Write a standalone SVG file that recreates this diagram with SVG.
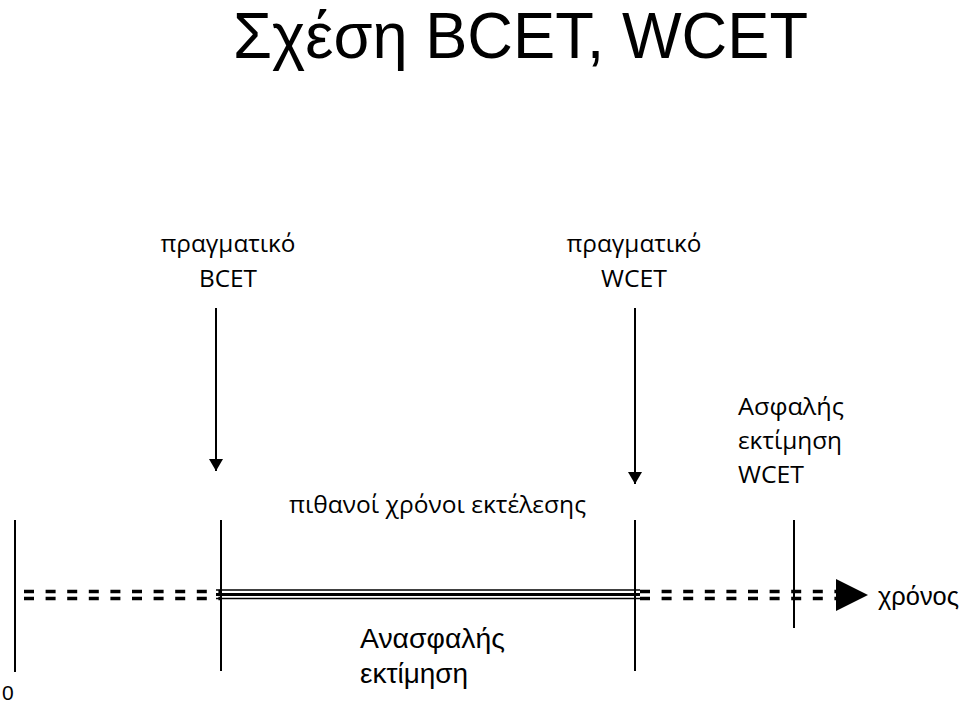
<svg xmlns="http://www.w3.org/2000/svg" width="960" height="705" viewBox="0 0 960 705">
<style>
.c{font-family:"Open Sans","Noto Sans","DejaVu Sans",sans-serif;fill:#000}
.a{font-family:"Liberation Sans",Arial,sans-serif;fill:#000}
.ln{stroke:#000;stroke-width:2;fill:none}
.d{stroke:#000;stroke-width:3.5;stroke-dasharray:10 11.6;fill:none}
</style>
<defs>
<marker id="ah" viewBox="0 0 12 14" refX="12" refY="7" markerWidth="12" markerHeight="14" markerUnits="userSpaceOnUse" orient="auto">
<path d="M0,0 L12,7 L0,14 Z" fill="#000"/>
</marker>
</defs>
<rect width="960" height="705" fill="#fff"/>
<g id="title"><text class="a" x="233" y="58" font-size="64" textLength="575" lengthAdjust="spacingAndGlyphs">Σχέση BCET, WCET</text></g>
<g id="bcet-label"><text class="c" x="228" y="252" font-size="23" text-anchor="middle" textLength="135" lengthAdjust="spacingAndGlyphs">πραγματικό</text><text class="c" x="228" y="287" font-size="23" text-anchor="middle" textLength="58" lengthAdjust="spacingAndGlyphs">BCET</text></g>
<g id="wcet-label"><text class="c" x="634" y="252" font-size="23" text-anchor="middle" textLength="135" lengthAdjust="spacingAndGlyphs">πραγματικό</text><text class="c" x="634" y="287" font-size="23" text-anchor="middle" textLength="66" lengthAdjust="spacingAndGlyphs">WCET</text></g>
<g id="safe-label"><text class="c" x="738" y="415" font-size="23" textLength="106" lengthAdjust="spacingAndGlyphs">Ασφαλής</text><text class="c" x="738" y="449" font-size="23" textLength="104" lengthAdjust="spacingAndGlyphs">εκτίμηση</text><text class="c" x="738" y="483" font-size="23" textLength="66" lengthAdjust="spacingAndGlyphs">WCET</text></g>
<g id="possible-label"><text class="c" x="289" y="513" font-size="23" textLength="297" lengthAdjust="spacingAndGlyphs">πιθανοί χρόνοι εκτέλεσης</text></g>
<g id="unsafe-label"><text class="a" x="360" y="648" font-size="27" textLength="145" lengthAdjust="spacingAndGlyphs">Ανασφαλής</text><text class="a" x="360" y="683" font-size="27" textLength="108" lengthAdjust="spacingAndGlyphs">εκτίμηση</text></g>
<g id="time-label"><text class="a" x="878" y="605" font-size="26" textLength="81" lengthAdjust="spacingAndGlyphs">χρόνος</text></g>
<g id="zero-label"><text class="a" x="2" y="700" font-size="21">0</text></g>
<g id="connectors">
<line class="ln" x1="216" y1="308" x2="216" y2="471" marker-end="url(#ah)"/>
<line class="ln" x1="635" y1="308" x2="635" y2="484" marker-end="url(#ah)"/>
<line class="ln" x1="15" y1="520" x2="15" y2="672"/>
<line class="ln" x1="221" y1="520" x2="221" y2="671"/>
<line class="ln" x1="635" y1="520" x2="635" y2="671"/>
<line class="ln" x1="794" y1="520" x2="794" y2="628"/>
<line class="d" x1="24" y1="591.5" x2="221" y2="591.5"/>
<line class="d" x1="24" y1="598.5" x2="221" y2="598.5"/>
<line stroke="#000" stroke-width="1.5" x1="216" y1="590" x2="640" y2="590"/>
<line stroke="#000" stroke-width="3" x1="216" y1="594.5" x2="640" y2="594.5"/>
<line stroke="#000" stroke-width="1.5" x1="216" y1="598.5" x2="640" y2="598.5"/>
<line class="d" x1="640" y1="591.5" x2="840" y2="591.5"/>
<line class="d" x1="640" y1="598.5" x2="840" y2="598.5"/>
<path d="M836,579 L868,595 L836,611 Z" fill="#000"/>
</g>
</svg>
